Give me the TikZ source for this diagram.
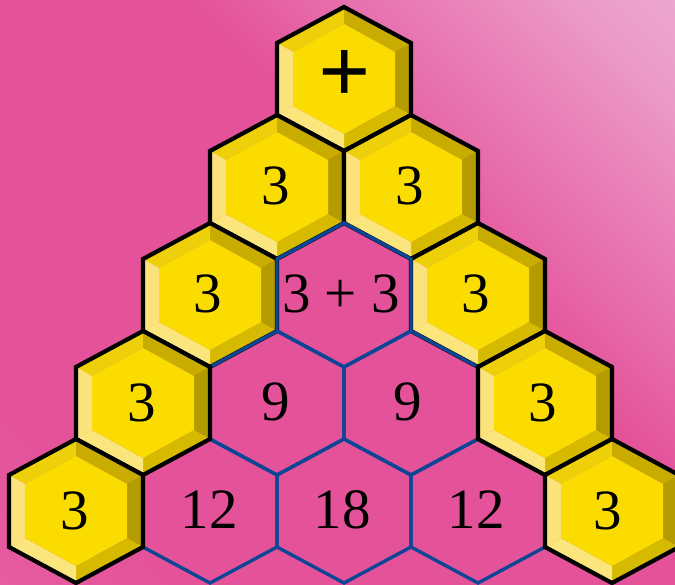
\documentclass[tikz,border=0pt]{standalone}
\usepackage{fontspec}
\setmainfont{Liberation Serif}
\usepackage{tikz}
\usetikzlibrary{calc}

\definecolor{bgdark}{HTML}{E4529A}
\definecolor{bgsoft}{HTML}{E86BA7}
\definecolor{bgrose}{HTML}{EC9BC8}
\definecolor{bglight}{HTML}{EDC4DE}
\definecolor{sumblue}{HTML}{0E4696}
\definecolor{combface}{HTML}{FADC00}
\definecolor{combtl}{HTML}{EDCF0A}
\definecolor{combtr}{HTML}{C8AC00}
\definecolor{combr}{HTML}{B39B00}
\definecolor{combbr}{HTML}{D6BA00}
\definecolor{combbl}{HTML}{FBE67E}
\definecolor{combl}{HTML}{FCE27A}

\pgfdeclareverticalshading{pinkbg}{100bp}{color(0bp)=(bgsoft); color(25bp)=(bgdark); color(58bp)=(bgdark); color(80bp)=(bgrose); color(100bp)=(bglight)}

\begin{document}
\begin{tikzpicture}[
    x=1pt, y=-1pt,
    cellnum/.style={font=\fontsize{57}{59}\selectfont, inner sep=0pt},
    opnum/.style={font=\fontsize{92}{94}\selectfont\bfseries, inner sep=0pt},
    rim/.style={draw=black, line width=4.2pt, line join=miter},
    sumline/.style={draw=sumblue, line width=3.4pt, line join=miter},
    honey/.pic={
        \fill[combtl] (-67,-36) -- (0,-72) -- (0,-55) -- (-51,-27) -- cycle;
        \fill[combtr] (0,-72) -- (67,-36) -- (51,-27) -- (0,-55) -- cycle;
        \fill[combr] (67,-36) -- (67,36) -- (51,27) -- (51,-27) -- cycle;
        \fill[combbr] (67,36) -- (0,72) -- (0,55) -- (51,27) -- cycle;
        \fill[combbl] (0,72) -- (-67,36) -- (-51,27) -- (0,55) -- cycle;
        \fill[combl] (-67,36) -- (-67,-36) -- (-51,-27) -- (-51,27) -- cycle;
        \fill[combface] (0,-55) -- (51,-27) -- (51,27) -- (0,55) -- (-51,27) -- (-51,-27) -- cycle;
        \draw[rim] (0,-72) -- (67,-36) -- (67,36) -- (0,72) -- (-67,36) -- (-67,-36) -- cycle;
    },
    sumcell/.pic={
        \draw[sumline] (0,-72) -- (67,-36) -- (67,36) -- (0,72) -- (-67,36) -- (-67,-36) -- cycle;
    },
]

% background
\useasboundingbox (0,0) rectangle (675,585);
\clip (0,0) rectangle (675,585);
\shade[shading=pinkbg, shading angle=-45] (0,0) rectangle (675,585);

% yellow cells, upper rows
\foreach \cx/\cy in {344/79, 277/187, 411/187, 210/295, 478/295}
    \pic at (\cx,\cy) {honey};

% sum cells
\foreach \cx/\cy in {344/295, 277/403, 411/403, 210/511, 344/511, 478/511}
    \pic at (\cx,\cy) {sumcell};

% yellow cells, lower rows
\foreach \cx/\cy in {143/403, 545/403, 76/511, 612/511}
    \pic at (\cx,\cy) {honey};

% numbers
\node[opnum] (op) at (345,77) {+};
\foreach \cx/\cy/\txt/\nm in {276/186/3/r2a, 410/186/3/r2b,
        208/294/3/r3a, 341/294/3 + 3/r3b, 476/294/3/r3c,
        142/403/3/r4a, 276/402/9/r4b, 408/402/9/r4c, 543/403/3/r4d,
        75/511/3/r5a, 209/510/12/r5b, 342/510/18/r5c, 476/510/12/r5d, 608/511/3/r5e}
    \node[cellnum] (\nm) at (\cx,\cy) {\txt};

\end{tikzpicture}
\end{document}
